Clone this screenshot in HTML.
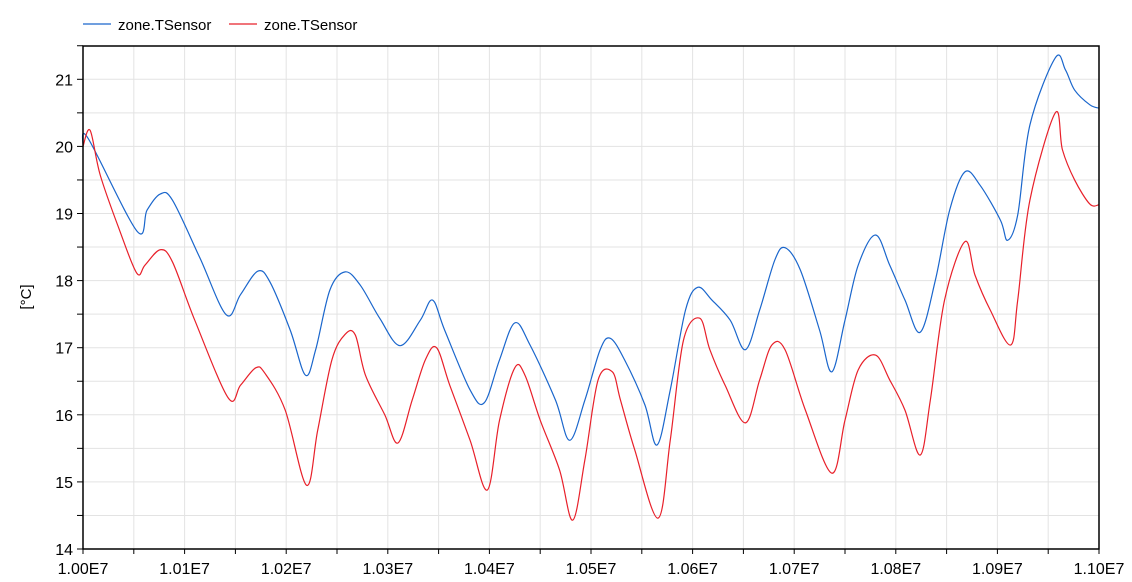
<!DOCTYPE html>
<html><head><meta charset="utf-8"><style>
body{margin:0;background:#fff;}
svg{display:block;font-family:"Liberation Sans",Arial,sans-serif;}
</style></head><body>
<svg id="chart" width="1132" height="582"></svg>
<script>
const blueT=[0,0.5,5.3,6.3,7.6,8.8,11.5,14.1,15.5,17.2,18.4,20.4,21.9,22.9,24.3,25.8,27.3,29.2,31.2,33.2,34.4,35.6,38.1,39.5,41.0,42.5,44.0,46.5,47.9,49.4,50.9,51.9,53.3,55.3,56.5,57.8,59.3,60.5,61.9,63.7,65.2,66.6,68.1,69.1,70.6,72.5,73.7,75.0,76.3,78.0,79.4,80.9,82.4,83.9,85.3,86.8,88.3,90.3,91.0,92.0,93.2,95.7,96.7,97.6,99.1,100];
const blueV=[20.0,20.12,18.74,19.05,19.29,19.2,18.34,17.49,17.79,18.14,17.98,17.26,16.59,16.97,17.86,18.13,17.93,17.44,17.03,17.41,17.71,17.26,16.37,16.18,16.82,17.37,17.04,16.22,15.62,16.22,16.97,17.14,16.82,16.15,15.55,16.37,17.56,17.9,17.71,17.41,16.97,17.56,18.31,18.49,18.16,17.26,16.64,17.41,18.23,18.68,18.23,17.71,17.23,18.01,19.05,19.62,19.42,18.9,18.6,18.98,20.32,21.32,21.14,20.84,20.62,20.57];
const redT=[0,0.7,1.7,3.6,5.3,6.1,7.6,8.8,11.0,14.3,15.5,17.0,17.9,19.9,22.0,23.1,24.5,25.8,26.8,27.8,29.7,31.0,32.4,33.7,34.8,36.1,38.1,39.8,41.0,42.5,43.5,45.0,46.9,48.2,49.4,50.7,52.1,52.9,54.3,56.6,57.8,59.1,60.7,61.7,63.2,65.2,66.6,67.8,69.1,71.1,73.7,75.0,76.3,78.0,79.4,80.9,82.4,83.4,84.8,86.8,87.8,89.3,91.3,92.0,93.2,95.7,96.4,97.6,99.1,100];
const redV=[20.0,20.24,19.57,18.75,18.11,18.23,18.46,18.28,17.41,16.25,16.44,16.7,16.62,16.07,14.95,15.77,16.82,17.2,17.19,16.59,16.0,15.58,16.22,16.82,17.0,16.44,15.62,14.88,15.92,16.7,16.59,15.92,15.18,14.43,15.33,16.52,16.64,16.22,15.48,14.46,15.62,17.11,17.44,16.97,16.44,15.88,16.52,17.04,16.97,16.07,15.13,15.92,16.67,16.89,16.52,16.07,15.4,16.22,17.71,18.58,18.08,17.56,17.04,17.71,19.2,20.5,19.95,19.5,19.14,19.13];
const xTickLabels=["1.00E7","1.01E7","1.02E7","1.03E7","1.04E7","1.05E7","1.06E7","1.07E7","1.08E7","1.09E7","1.10E7"];
const yTickLabels=["14","15","16","17","18","19","20","21"];

const L=83,R=1099,T=46,B=549;
const xs=t=>L+t*(R-L)/100;
const ys=v=>B-(v-14)*67.1;
const NS="http://www.w3.org/2000/svg";
const svg=document.getElementById('chart');
function mk(tag,attrs,parent){const e=document.createElementNS(NS,tag);for(const k in attrs)e.setAttribute(k,attrs[k]);(parent||svg).appendChild(e);return e;}

const grid=mk('g',{});


for(let i=1;i<20;i++){const x=xs(i*5);mk('line',{x1:x,x2:x,y1:T,y2:B,stroke:'#e3e3e3','stroke-width':1},grid);}
for(let v=14.5;v<21.5;v+=0.5){const y=ys(v);mk('line',{x1:L,x2:R,y1:y,y2:y,stroke:'#e3e3e3','stroke-width':1},grid);}

const xAxis=mk('g',{});


for(let i=0;i<=20;i++){const x=xs(i*5);mk('line',{x1:x,x2:x,y1:B,y2:B+(i%2?5:5),stroke:'#000'},xAxis);}
xTickLabels.forEach((s,i)=>{const t=mk('text',{x:xs(i*10),y:B+25,'text-anchor':'middle','font-size':16,fill:'#000'},xAxis);t.textContent=s;

});

const yAxis=mk('g',{});


for(let v=14;v<=21.5;v+=0.5){const y=ys(v);mk('line',{x1:L-6,x2:L,y1:y,y2:y,stroke:'#000'},yAxis);}
yTickLabels.forEach(s=>{const t=mk('text',{x:L-10,y:ys(+s)+6,'text-anchor':'end','font-size':16,fill:'#000'},yAxis);t.textContent=s;

});
const yt=mk('text',{x:31,y:297,'text-anchor':'middle','font-size':15,transform:'rotate(-90 31 297)',fill:'#000'});
yt.textContent='[°C]';



function series(T_,V_,color,name){
  const pts=T_.map((t,i)=>[xs(t),ys(V_[i])]);
  let d='M'+pts[0][0]+','+pts[0][1];
  for(let i=0;i<pts.length-1;i++){
    const p0=pts[Math.max(0,i-1)],p1=pts[i],p2=pts[i+1],p3=pts[Math.min(pts.length-1,i+2)];
    const c1=[p1[0]+(p2[0]-p0[0])/6,p1[1]+(p2[1]-p0[1])/6];
    const c2=[p2[0]-(p3[0]-p1[0])/6,p2[1]-(p3[1]-p1[1])/6];
    d+=' C'+c1[0]+','+c1[1]+' '+c2[0]+','+c2[1]+' '+p2[0]+','+p2[1];
  }
  const p=mk('path',{d:d,fill:'none',stroke:color,'stroke-width':1.2});
  
  
}
series(blueT,blueV,'#1a66cc','series-blue-tsensor');
series(redT,redV,'#e8202a','series-red-tsensor');

const frame=mk('rect',{x:L,y:T,width:R-L,height:B-T,fill:'none',stroke:'#000','stroke-width':1.5});



const lg=mk('g',{});


[[83,'#1a66cc'],[229,'#e8202a']].forEach(([x,c],i)=>{
  const e=mk('g',{},lg);
  
  
  mk('line',{x1:x,x2:x+28,y1:24,y2:24,stroke:c,'stroke-width':1.3},e);
  const t=mk('text',{x:x+35,y:30,'font-size':15,fill:'#000'},e);t.textContent='zone.TSensor';
});
</script>
</body></html>
